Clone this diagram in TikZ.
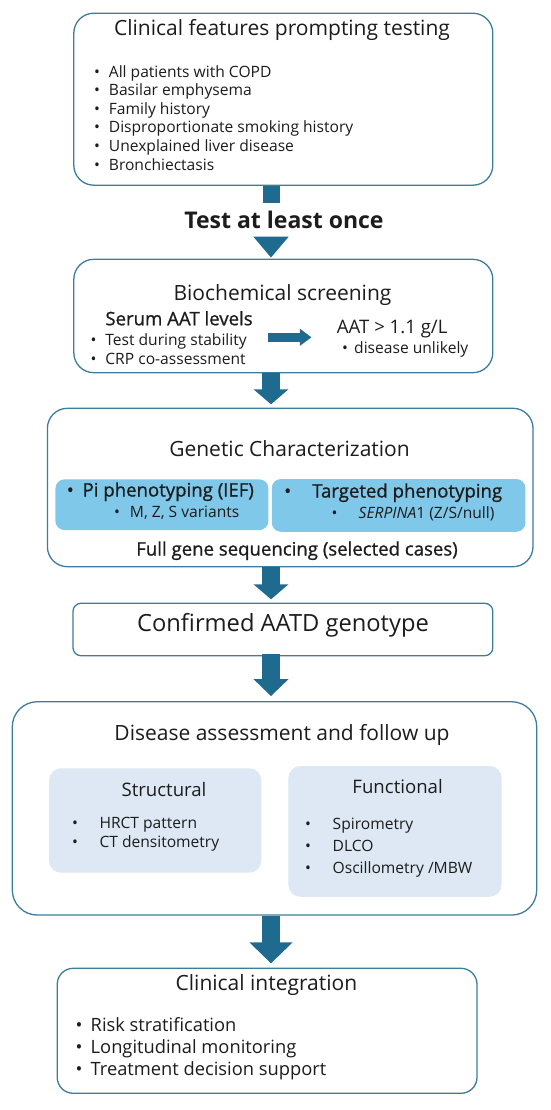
\documentclass[tikz,border=0pt]{standalone}
\usepackage{fontspec}
\setmainfont{Open Sans}
\newfontfamily\semib{Open Sans}[FakeBold=0.9]
\usepackage{xcolor}
\usetikzlibrary{arrows.meta}
\definecolor{frame}{HTML}{3E7C9C}
\definecolor{arrowc}{HTML}{1F6B8F}
\definecolor{tblue}{HTML}{80C8EA}
\definecolor{lblue}{HTML}{DDE8F4}
\definecolor{ink}{HTML}{1C1C1C}
\newcommand{\itm}[2][14.7pt]{\makebox[#1][l]{•}#2}

\begin{document}
\begin{tikzpicture}[x=1pt, y=-1pt,
    box/.style={draw=frame, line width=1.3pt, fill=white, rounded corners=#1, inner sep=0pt},
    panel/.style={fill=#1, rounded corners=9pt, inner sep=0pt},
    ttl/.style={font=\fontsize{21}{25}\selectfont, text=ink, inner sep=0pt},
    sub/.style={font=\fontsize{18.6}{22}\selectfont, text=ink, inner sep=0pt},
    hdr/.style={font=\fontsize{18.6}{22}\semib, text=ink, inner sep=0pt},
    lst/.style={font=\fontsize{15.6}{#1}\selectfont, text=ink, align=left, inner sep=0pt, anchor=west},
    bar/.style={line width=17pt, draw=arrowc},
    flow/.style={line width=18pt, draw=arrowc, -{Triangle[length=#1, width=34pt]}}
  ]
    \useasboundingbox (0,0) rectangle (550,1110);
    \coordinate (spine) at (271,0);

    % clinical features
    \node[box=20pt, minimum width=419pt, minimum height=172pt] (feat) at (283.3,99.2) {};
    \node[ttl] (featttl) at (282,30) {Clinical features prompting testing};
    \node[lst=18.6pt] (featlist) at (94,117.7)
      {\itm{All patients with COPD}\\ \itm{Basilar emphysema}\\ \itm{Family history}\\
       \itm{Disproportionate smoking history}\\ \itm{Unexplained liver disease}\\ \itm{Bronchiectasis}};

    \node[font=\fontsize{23}{27}\selectfont\bfseries, text=ink, inner sep=0pt] (test) at (284,220) {Test at least once};

    % biochemical screening
    \node[box=20pt, minimum width=419pt, minimum height=113.4pt] (bio) at (283.3,316) {};
    \node[ttl] (biottl) at (282.5,295) {Biochemical screening};
    \node[hdr, anchor=west] (serum) at (105.2,318.3) {Serum AAT levels};
    \node[lst=19pt] (biolist) at (90.5,348.8) {\itm{Test during stability}\\ \itm{CRP co-assessment}};
    \node[sub, anchor=west] (cut) at (336.7,329) {AAT > 1.1 g/L};
    \node[lst=19pt] (cutlist) at (342,349.3) {\itm[12pt]{disease unlikely}};
    \coordinate (gapL) at (268,337.3);
    \coordinate (gapR) at (311.5,337.3);
    \draw[line width=9pt, draw=arrowc, -{Triangle[length=11.6pt, width=16.3pt]}] (gapL) -- (gapR);

    % genetic characterization
    \node[box=20pt, minimum width=485.6pt, minimum height=158.4pt] (gen) at (290.2,487.5) {};
    \node[ttl] (genttl) at (289.5,448.3) {Genetic Characterization};
    \node[panel=tblue, minimum width=212.9pt, minimum height=50.7pt] (pibox) at (161.9,504.7) {};
    \node[panel=tblue, minimum width=253.6pt, minimum height=52.7pt] (tgtbox) at (398.6,505.4) {};
    \node[hdr, anchor=west] (pi) at (66.6,491.7) {\itm[15.8pt]{Pi phenotyping (IEF)}};
    \node[lst=19pt] (pisub) at (114,512.3) {\itm[15.8pt]{M, Z, S variants}};
    \node[hdr, anchor=west] (tgt) at (284,492.7) {\itm[28pt]{Targeted phenotyping}};
    \node[lst=19pt] (tgtsub) at (331.5,514) {\itm[27pt]{\textit{SERPINA}1 (Z/S/null)}};
    \node[hdr] (fullseq) at (297,550.7) {Full gene sequencing (selected cases)};

    % confirmed genotype
    \node[box=8pt, minimum width=419.8pt, minimum height=52.4pt] (geno) at (282.9,629.5) {};
    \node[font=\fontsize{23.7}{28}\selectfont, text=ink, inner sep=0pt] (genotxt) at (283,625) {Confirmed AATD genotype};

    % disease assessment
    \node[box=25pt, minimum width=524.4pt, minimum height=213.3pt] (assess) at (274.5,808.4) {};
    \node[ttl] (assessttl) at (282,735) {Disease assessment and follow up};
    \node[panel=lblue, rounded corners=12pt, minimum width=212.3pt, minimum height=104.4pt] (structbox) at (155.2,820.5) {};
    \node[sub] (structttl) at (164,790) {Structural};
    \node[lst=19pt] (structlist) at (72,833.8) {\itm[27.3pt]{HRCT pattern}\\ \itm[27.3pt]{CT densitometry}};
    \node[panel=lblue, rounded corners=12pt, minimum width=213.3pt, minimum height=130.7pt] (funcbox) at (395,831.4) {};
    \node[sub] (functtl) at (397.6,786.7) {Functional};
    \node[lst=22pt] (funclist) at (305,847.9)
      {\itm[27.5pt]{Spirometry}\\ \itm[27.5pt]{DLCO}\\ \itm[27.5pt]{Oscillometry /MBW}};

    % clinical integration
    \node[box=16pt, minimum width=419.8pt, minimum height=125pt] (integ) at (267.1,1030.8) {};
    \node[ttl] (integttl) at (266.4,985) {Clinical integration};
    \node[lst=22.3pt, font=\fontsize{18.3}{22.3}\selectfont] (integlist) at (75.4,1048.8)
      {\itm[15.1pt]{Risk stratification}\\ \itm[15.1pt]{Longitudinal monitoring}\\ \itm[15.1pt]{Treatment decision support}};

    % flow arrows
    \draw[bar, shorten >=7.7pt] (feat.south -| spine) -- (test.north -| spine);
    \draw[flow=21pt, shorten <=11.6pt, shorten >=1pt] (test.south -| spine) -- (bio.north -| spine);
    \draw[flow=15pt, shorten >=3.3pt] (bio.south -| spine) -- (gen.north -| spine);
    \draw[flow=15pt, shorten >=3.3pt] (gen.south -| spine) -- (geno.north -| spine);
    \draw[flow=17pt, shorten <=-2.6pt, shorten >=5pt] (geno.south -| spine) -- (assess.north -| spine);
    \draw[flow=21pt, -{Triangle[length=21pt, width=42pt]}, shorten >=4.3pt] (assess.south -| spine) -- (integ.north -| spine);
\end{tikzpicture}
\end{document}
